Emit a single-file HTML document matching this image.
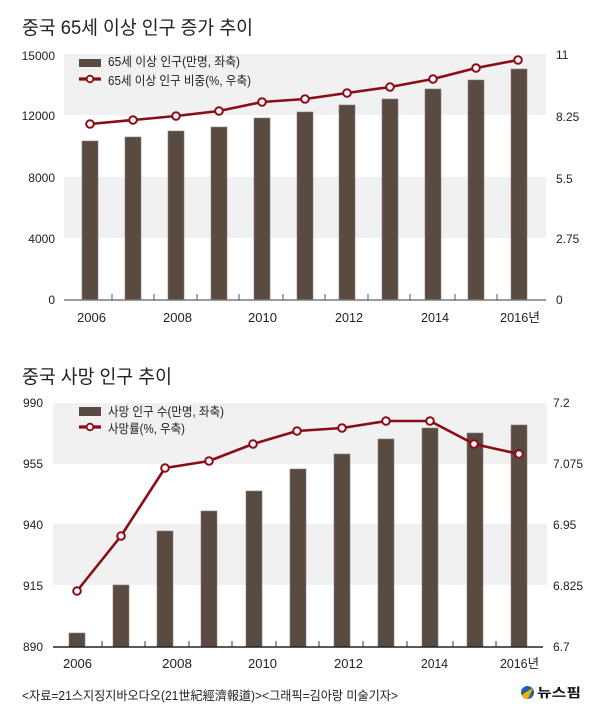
<!DOCTYPE html>
<html>
<head>
<meta charset="utf-8">
<style>
  html,body{margin:0;padding:0;background:#fff;}
  svg{display:block;}
  text{font-family:"Liberation Sans","Noto Sans CJK KR",sans-serif;fill:#222;}
</style>
</head>
<body>
<svg width="600" height="722" viewBox="0 0 600 722" xmlns="http://www.w3.org/2000/svg">
  <rect x="0" y="0" width="600" height="722" fill="#fff"/>

  <!-- ================= TOP CHART ================= -->
  <text x="22" y="34" font-size="19" textLength="231" lengthAdjust="spacingAndGlyphs">중국 65세 이상 인구 증가 추이</text>

  <!-- gray bands -->
  <rect x="64" y="54" width="482" height="61" fill="#f1f1f1"/>
  <rect x="64" y="177" width="482" height="61" fill="#f1f1f1"/>

  <!-- left axis labels -->
  <g font-size="12" text-anchor="end">
    <text x="55" y="60">15000</text>
    <text x="55" y="120">12000</text>
    <text x="55" y="182">8000</text>
    <text x="55" y="243">4000</text>
    <text x="55" y="304">0</text>
  </g>
  <!-- right axis labels -->
  <g font-size="12">
    <text x="556" y="59">11</text>
    <text x="556" y="121">8.25</text>
    <text x="556" y="183">5.5</text>
    <text x="556" y="243">2.75</text>
    <text x="556" y="304">0</text>
  </g>

  <!-- bars -->
  <g fill="#594a42" stroke="#8a7e77" stroke-width="0.6">
    <rect x="82" y="141" width="16" height="159"/>
    <rect x="125" y="137" width="16" height="163"/>
    <rect x="168" y="131" width="16" height="169"/>
    <rect x="211" y="127" width="16" height="173"/>
    <rect x="254" y="118" width="16" height="182"/>
    <rect x="297" y="112" width="16" height="188"/>
    <rect x="339" y="105" width="16" height="195"/>
    <rect x="382" y="99" width="16" height="201"/>
    <rect x="425" y="89" width="16" height="211"/>
    <rect x="468" y="80" width="16" height="220"/>
    <rect x="511" y="69" width="16" height="231"/>
  </g>

  <!-- baseline & ticks -->
  <line x1="64" y1="300" x2="546" y2="300" stroke="#7a7a7a" stroke-width="1.5"/>
  <g stroke="#555" stroke-width="1">
    <line x1="112" y1="294" x2="112" y2="300"/>
    <line x1="154" y1="294" x2="154" y2="300"/>
    <line x1="197" y1="294" x2="197" y2="300"/>
    <line x1="239" y1="294" x2="239" y2="300"/>
    <line x1="283" y1="294" x2="283" y2="300"/>
    <line x1="325" y1="294" x2="325" y2="300"/>
    <line x1="368" y1="294" x2="368" y2="300"/>
    <line x1="410" y1="294" x2="410" y2="300"/>
    <line x1="455" y1="294" x2="455" y2="300"/>
    <line x1="497" y1="294" x2="497" y2="300"/>
  </g>

  <!-- line series -->
  <polyline fill="none" stroke="#8b0c14" stroke-width="2.6" stroke-linejoin="round"
    points="90,124 133,120 176,116 219,111 262,102 305,99 347,93 390,87 433,79 476,68 518,60"/>
  <g fill="#fff" stroke="#8b0c14" stroke-width="2">
    <circle cx="90" cy="124" r="3.8"/>
    <circle cx="133" cy="120" r="3.8"/>
    <circle cx="176" cy="116" r="3.8"/>
    <circle cx="219" cy="111" r="3.8"/>
    <circle cx="262" cy="102" r="3.8"/>
    <circle cx="305" cy="99" r="3.8"/>
    <circle cx="347" cy="93" r="3.8"/>
    <circle cx="390" cy="87" r="3.8"/>
    <circle cx="433" cy="79" r="3.8"/>
    <circle cx="476" cy="68" r="3.8"/>
    <circle cx="518" cy="60" r="3.8"/>
  </g>

  <!-- legend -->
  <rect x="79" y="59" width="22" height="8" fill="#594a42"/>
  <text x="108" y="66" font-size="12.5" textLength="132" lengthAdjust="spacingAndGlyphs">65세 이상 인구(만명, 좌축)</text>
  <line x1="79" y1="79" x2="101" y2="79" stroke="#8b0c14" stroke-width="3.3"/>
  <circle cx="90" cy="79" r="3.3" fill="#fff" stroke="#8b0c14" stroke-width="1.8"/>
  <text x="108" y="85" font-size="12.5" textLength="143" lengthAdjust="spacingAndGlyphs">65세 이상 인구 비중(%, 우축)</text>

  <!-- x labels -->
  <g font-size="13">
    <text x="77" y="322" textLength="29" lengthAdjust="spacingAndGlyphs">2006</text>
    <text x="163" y="322" textLength="29" lengthAdjust="spacingAndGlyphs">2008</text>
    <text x="248" y="322" textLength="29" lengthAdjust="spacingAndGlyphs">2010</text>
    <text x="335" y="322" textLength="28" lengthAdjust="spacingAndGlyphs">2012</text>
    <text x="421" y="322" textLength="28" lengthAdjust="spacingAndGlyphs">2014</text>
    <text x="500" y="322" textLength="40" lengthAdjust="spacingAndGlyphs">2016년</text>
  </g>

  <!-- ================= BOTTOM CHART ================= -->
  <text x="22" y="383" font-size="19" textLength="150" lengthAdjust="spacingAndGlyphs">중국 사망 인구 추이</text>

  <rect x="53" y="403" width="494" height="61" fill="#f1f1f1"/>
  <rect x="53" y="524" width="494" height="61" fill="#f1f1f1"/>

  <g font-size="12" text-anchor="end">
    <text x="43" y="407">990</text>
    <text x="43" y="468">955</text>
    <text x="43" y="529">940</text>
    <text x="43" y="590">915</text>
    <text x="43" y="651">890</text>
  </g>
  <g font-size="12">
    <text x="553" y="407">7.2</text>
    <text x="553" y="468">7.075</text>
    <text x="553" y="529">6.95</text>
    <text x="553" y="590">6.825</text>
    <text x="553" y="651">6.7</text>
  </g>

  <g fill="#594a42" stroke="#8a7e77" stroke-width="0.6">
    <rect x="69" y="633" width="16" height="14"/>
    <rect x="113" y="585" width="16" height="62"/>
    <rect x="157" y="531" width="16" height="116"/>
    <rect x="201" y="511" width="16" height="136"/>
    <rect x="246" y="491" width="16" height="156"/>
    <rect x="290" y="469" width="16" height="178"/>
    <rect x="334" y="454" width="16" height="193"/>
    <rect x="378" y="439" width="16" height="208"/>
    <rect x="422" y="428" width="16" height="219"/>
    <rect x="467" y="433" width="16" height="214"/>
    <rect x="511" y="425" width="16" height="222"/>
  </g>

  <line x1="53" y1="647" x2="543" y2="647" stroke="#222" stroke-width="1.5"/>
  <g stroke="#333" stroke-width="1">
    <line x1="102" y1="641" x2="102" y2="647"/>
    <line x1="145" y1="641" x2="145" y2="647"/>
    <line x1="189" y1="641" x2="189" y2="647"/>
    <line x1="232" y1="641" x2="232" y2="647"/>
    <line x1="276" y1="641" x2="276" y2="647"/>
    <line x1="319" y1="641" x2="319" y2="647"/>
    <line x1="363" y1="641" x2="363" y2="647"/>
    <line x1="407" y1="641" x2="407" y2="647"/>
    <line x1="453" y1="641" x2="453" y2="647"/>
    <line x1="496" y1="641" x2="496" y2="647"/>
  </g>

  <polyline fill="none" stroke="#8b0c14" stroke-width="2.6" stroke-linejoin="round"
    points="77,591 121,536 165,468 209,461 253,444 297,431 342,428 386,421 430,421 474,444 519,454"/>
  <g fill="#fff" stroke="#8b0c14" stroke-width="2">
    <circle cx="77" cy="591" r="3.8"/>
    <circle cx="121" cy="536" r="3.8"/>
    <circle cx="165" cy="468" r="3.8"/>
    <circle cx="209" cy="461" r="3.8"/>
    <circle cx="253" cy="444" r="3.8"/>
    <circle cx="297" cy="431" r="3.8"/>
    <circle cx="342" cy="428" r="3.8"/>
    <circle cx="386" cy="421" r="3.8"/>
    <circle cx="430" cy="421" r="3.8"/>
    <circle cx="474" cy="444" r="3.8"/>
    <circle cx="519" cy="454" r="3.8"/>
  </g>

  <rect x="79" y="407" width="22" height="9" fill="#594a42"/>
  <text x="108" y="416" font-size="12.5" textLength="116" lengthAdjust="spacingAndGlyphs">사망 인구 수(만명, 좌축)</text>
  <line x1="79" y1="427" x2="101" y2="427" stroke="#8b0c14" stroke-width="3.3"/>
  <circle cx="90" cy="427" r="3.3" fill="#fff" stroke="#8b0c14" stroke-width="1.8"/>
  <text x="108" y="433" font-size="12.5" textLength="77" lengthAdjust="spacingAndGlyphs">사망률(%, 우축)</text>

  <g font-size="13">
    <text x="63" y="668" textLength="29" lengthAdjust="spacingAndGlyphs">2006</text>
    <text x="162" y="668" textLength="30" lengthAdjust="spacingAndGlyphs">2008</text>
    <text x="248" y="668" textLength="29" lengthAdjust="spacingAndGlyphs">2010</text>
    <text x="334" y="668" textLength="29" lengthAdjust="spacingAndGlyphs">2012</text>
    <text x="421" y="668" textLength="27" lengthAdjust="spacingAndGlyphs">2014</text>
    <text x="500" y="668" textLength="39" lengthAdjust="spacingAndGlyphs">2016년</text>
  </g>

  <!-- ================= FOOTER ================= -->
  <text x="22" y="700" font-size="12.5" textLength="376" lengthAdjust="spacingAndGlyphs">&lt;자료=21스지징지바오다오(21世紀經濟報道)&gt;&lt;그래픽=김아랑 미술기자&gt;</text>

  <!-- logo -->
  <circle cx="527.5" cy="692.5" r="6.5" fill="#1f5fb0"/>
  <path d="M521.5,695 L533.5,687.5 L528,698.8 A6.5,6.5 0 0 1 521.5,695 Z" fill="#f0b400"/>
  <text x="537" y="697" font-size="12.5" font-weight="bold" textLength="44" lengthAdjust="spacingAndGlyphs" style="fill:#111">뉴스핌</text>
</svg>
</body>
</html>
